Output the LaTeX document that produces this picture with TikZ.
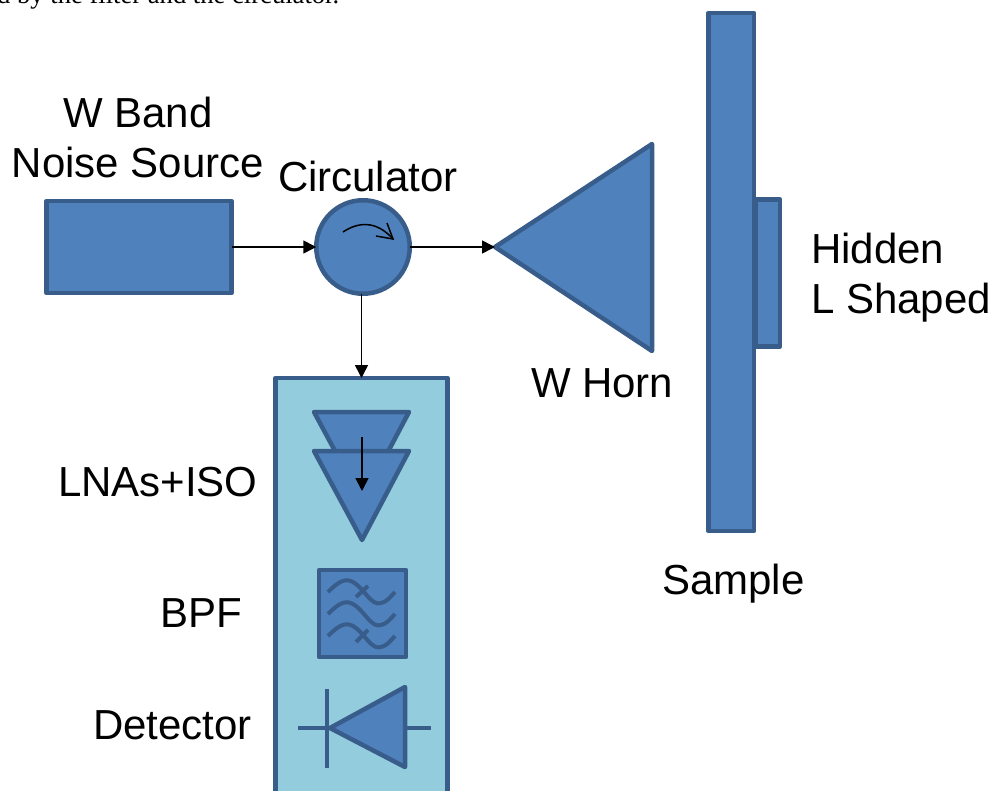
\documentclass[tikz,border=0pt]{standalone}
\usepackage{fontspec}
\setmainfont{Liberation Sans}
\newfontfamily\serifcap{Liberation Serif}
\usetikzlibrary{arrows.meta}
\definecolor{edgeblue}{HTML}{385D8A}
\definecolor{fillblue}{HTML}{4F81BD}
\definecolor{panelblue}{HTML}{93CDDD}
\tikzset{
  x=1pt,y=-1pt,
  part/.style={draw=edgeblue,fill=fillblue,line width=4.5pt,line join=round},
  box/.style={part,rectangle,inner sep=0pt,outer sep=0pt},
  glyph/.style={draw=edgeblue,line width=4.5pt,line cap=butt},
  flow/.style={draw=black,line width=1.6pt,-{Triangle[length=13pt,width=13pt]}},
  label/.style={font=\fontsize{42pt}{50pt}\selectfont,inner sep=0pt,outer sep=0pt,text=black},
}
\begin{document}
\begin{tikzpicture}
\clip (0,0) rectangle (992,791);
\node[anchor=base west,inner sep=0pt,font=\serifcap\fontsize{26.6pt}{30pt}\selectfont] (caption) at (-3,3.5) {d by the filter and the circulator.};
% main blocks
\node[box,minimum width=185pt,minimum height=92pt] (source) at (139,247) {};
\node[part,circle,inner sep=0pt,outer sep=0pt,minimum size=93.5pt] (circ) at (363,247) {};
\node[box,minimum width=24pt,minimum height=147pt] (hidden) at (768,273) {};
\node[box,minimum width=45.5pt,minimum height=518pt] (sample) at (731,272) {};
\coordinate (hornTip) at (495,247);
\draw[part] (hornTip) -- (652,144) -- (652,351) -- cycle;
% receiver panel
\node[box,fill=panelblue,minimum width=172pt,minimum height=452pt] (panel) at (361.5,604) {};
% LNAs
\draw[part] (314,412) -- (409,412) -- (362,501) -- cycle;
\draw[part] (314,451) -- (409,451) -- (362,540) -- cycle;
\coordinate (lnaIn) at (362,437);
\coordinate (lnaOut) at (362,491);
\draw[flow] (lnaIn) -- (lnaOut);
% BPF
\node[box,minimum width=87pt,minimum height=87pt] (bpf) at (362.5,613.5) {};
\foreach \d in {0,22,44}{
  \draw[glyph,line width=4pt] (328,592+\d) .. controls (338,582+\d) and (346,576+\d) .. (356,584+\d) .. controls (366,592+\d) and (372,606+\d) .. (381,603+\d) .. controls (387,602+\d) and (391,596+\d) .. (395,592+\d);
}
\draw[glyph,line width=4pt] (356,597) -- (368,586);
\draw[glyph,line width=4pt] (356,642) -- (368,630);
% detector
\draw[part] (330,728) -- (405,687) -- (405,767) -- cycle;
\draw[glyph] (327,689) -- (327,768);
\draw[glyph] (298,728) -- (325,728);
\draw[glyph] (405,728) -- (431,728);
% circulator glyph
\draw[black,line width=1.5pt] (343,232) .. controls (358,222) and (376,220) .. (393,239);
\draw[black,line width=1.5pt] (387,223) -- (393,239) -- (376,236);
% connectors
\draw[flow] (source.east) -- (circ.west);
\draw[flow] (circ.east) -- (hornTip);
\draw[flow] (panel.north |- circ.south) -- (panel.north);
% labels
\node[label,align=center,anchor=center] (lsource) at (138,137) {W Band\\Noise Source};
\node[label,anchor=base west] (lcirc) at (278,192) {Circulator};
\node[label,align=left,anchor=center] (lhidden) at (901,278) {Hidden\\L Shaped};
\node[label,anchor=base west] (lhorn) at (531,397) {W Horn};
\node[label,anchor=base west] (lsample) at (662,594) {Sample};
\node[label,anchor=base west] (llna) at (58,496) {LNAs+ISO};
\node[label,anchor=base west] (lbpf) at (160,627) {BPF};
\node[label,anchor=base west] (ldet) at (93,739) {Detector};
\end{tikzpicture}
\end{document}
